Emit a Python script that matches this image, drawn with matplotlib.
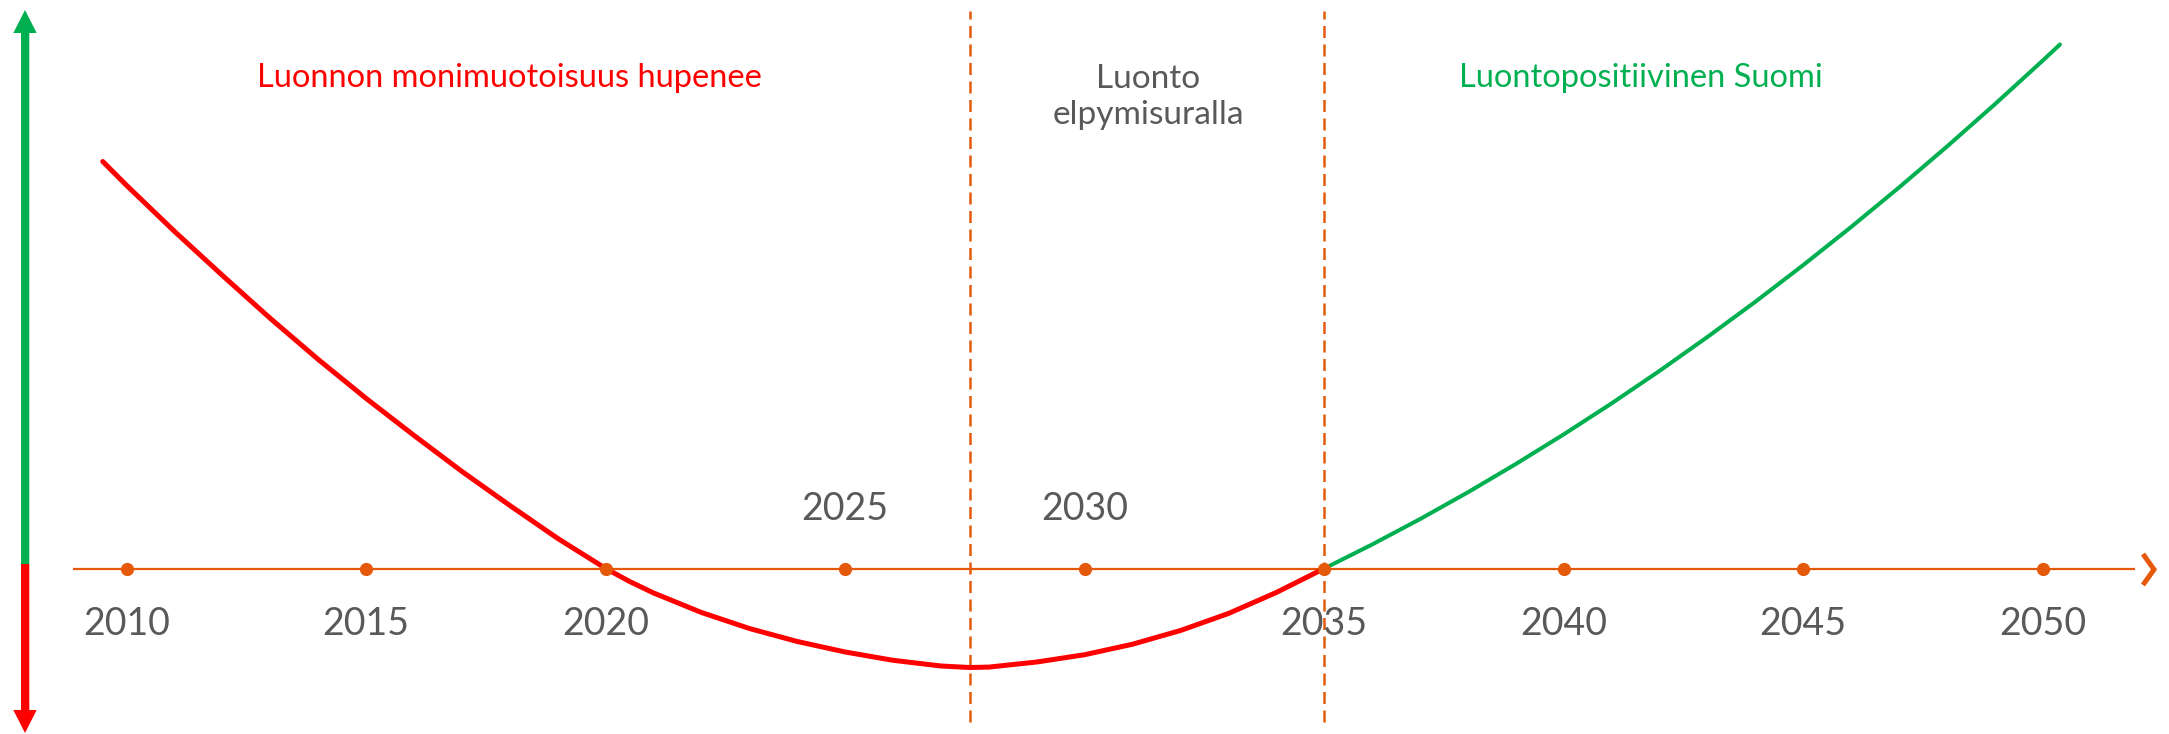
import matplotlib
matplotlib.use("Agg")
import matplotlib.pyplot as plt
from matplotlib.patches import Polygon

# ---------------- data ----------------
red_years = [2009.5, 2010, 2011, 2012, 2013, 2014, 2015, 2016, 2017, 2018, 2019, 2020,
             2020.5, 2021, 2022, 2023, 2024, 2025, 2026, 2027, 2027.6, 2028, 2029, 2030,
             2031, 2032, 2033, 2034, 2035]
red_values = [4.07, 3.83, 3.37, 2.93, 2.50, 2.09, 1.70, 1.33, 0.97, 0.63, 0.30, 0.00,
              -0.13, -0.245, -0.44, -0.60, -0.73, -0.835, -0.918, -0.975, -0.99, -0.986, -0.935,
              -0.862, -0.757, -0.62, -0.45, -0.24, 0.00]
green_years = [2035, 2036, 2037, 2038, 2039, 2040, 2041, 2042, 2043, 2044, 2045,
               2046, 2047, 2048, 2049, 2050, 2050.36]
green_values = [0.00, 0.24, 0.494, 0.762, 1.045, 1.341, 1.651, 1.976, 2.315, 2.667, 3.034,
                3.415, 3.810, 4.219, 4.642, 5.079, 5.24]

tick_years = [2010, 2015, 2020, 2025, 2030, 2035, 2040, 2045, 2050]
labels_above = [2025, 2030]
phase_bounds = [2027.6, 2035.0]

title_left = "Luonnon monimuotoisuus hupenee"
title_mid = "Luonto\nelpymisuralla"
title_right = "Luontopositiivinen Suomi"

# ---------------- style ----------------
RED = "#FF0000"
GREEN = "#00B050"
ORANGE = "#E45A0A"
GRAY = "#595959"
FONT = "Lato"

W, H = 2169, 734
fig = plt.figure(figsize=(W / 100, H / 100), dpi=100)
fig.patch.set_facecolor("white")

# pixel axes for decorations
pa = fig.add_axes([0, 0, 1, 1])
pa.set_xlim(0, W)
pa.set_ylim(H, 0)
pa.axis("off")

# data axes
ax = fig.add_axes([0, 0, 1, 1])
ax.patch.set_alpha(0)
x0_px, px_per_year = 126.7, 47.9
base_px, px_per_unit = 568.5, 100.0
ax.set_xlim(2010 - x0_px / px_per_year, 2010 + (W - x0_px) / px_per_year)
ax.set_ylim(-(H - base_px) / px_per_unit, base_px / px_per_unit)
ax.axis("off")

# left vertical arrow (green up, red down)
sx0, sx1 = 21, 29.3
hx0, hx1 = 13.3, 36.7
split = 564
pa.add_patch(Polygon([(sx0, split), (sx0, 33), (hx0, 33), ((hx0 + hx1) / 2, 10),
                      (hx1, 33), (sx1, 33), (sx1, split)], closed=True,
                     facecolor=GREEN, edgecolor="none"))
pa.add_patch(Polygon([(sx0, split), (sx0, 710), (hx0, 710), ((hx0 + hx1) / 2, 733),
                      (hx1, 710), (sx1, 710), (sx1, split)], closed=True,
                     facecolor=RED, edgecolor="none"))

# timeline
pa.plot([73, 2135], [base_px, base_px], color=ORANGE, lw=1.6, solid_capstyle="butt", zorder=2)
pa.plot([2143, 2154, 2143], [554, 569.5, 585], color=ORANGE, lw=3.6,
        solid_joinstyle="miter", solid_capstyle="butt", zorder=2)

# dashed phase boundaries
ymin_frac = (H - 722) / H
ymax_frac = (H - 11) / H
for b in phase_bounds:
    ax.axvline(b, ymin=ymin_frac, ymax=ymax_frac, color=ORANGE, lw=1.8,
               dashes=(4.8, 2.6), zorder=1)

# curves
ax.plot(red_years, red_values, color=RED, lw=3.6, solid_capstyle="round",
        solid_joinstyle="round", zorder=3)
ax.plot(green_years, green_values, color=GREEN, lw=2.9, solid_capstyle="round",
        solid_joinstyle="round", zorder=3)

# tick dots
ax.plot(tick_years, [0] * len(tick_years), "o", color=ORANGE, ms=9.5, mew=0, zorder=4)

# year labels
for yr in tick_years:
    if yr in labels_above:
        ax.text(yr, (base_px - 520) / px_per_unit, str(yr), ha="center", va="baseline",
                fontsize=27, color=GRAY, family=FONT)
    else:
        ax.text(yr, (base_px - 635) / px_per_unit, str(yr), ha="center", va="baseline",
                fontsize=27, color=GRAY, family=FONT)

# phase titles
pa.text(509, 87, title_left, ha="center", va="baseline", fontsize=23.5, color=RED, family=FONT)
pa.text(1641, 87, title_right, ha="center", va="baseline", fontsize=23.5, color=GREEN, family=FONT)
pa.text(1148, 97, title_mid, ha="center", va="center", fontsize=24, color=GRAY,
        family=FONT, linespacing=1.27)

fig.savefig("out.png", dpi=100, facecolor="white")
